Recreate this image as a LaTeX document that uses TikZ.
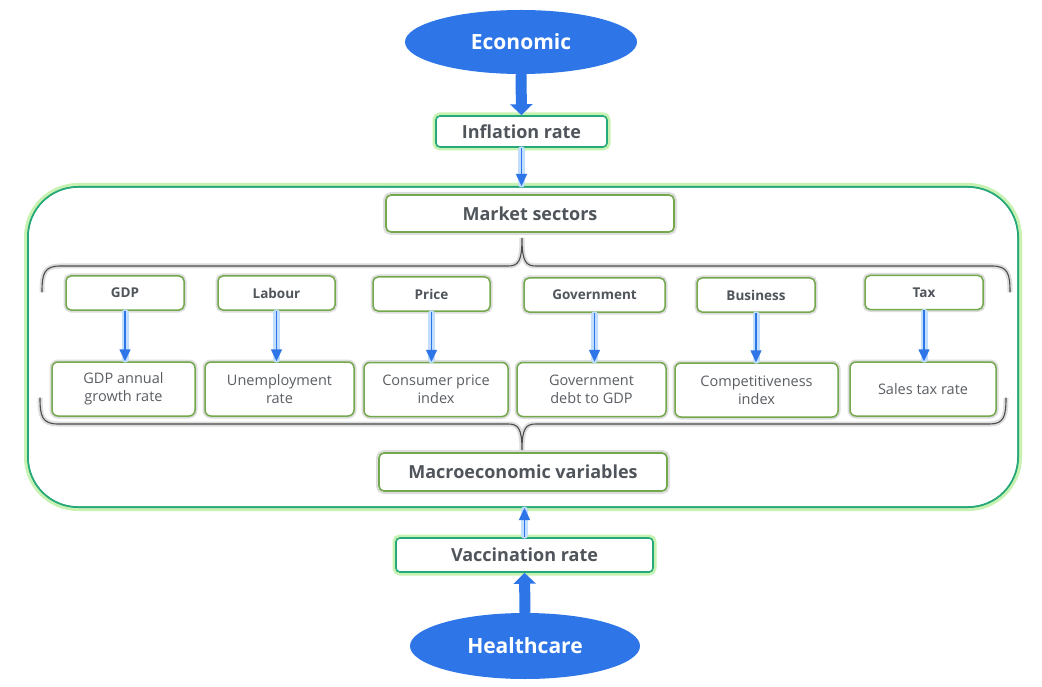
\documentclass[tikz,border=0pt]{standalone}
\usepackage{fontspec}
\setmainfont{Open Sans}
\usetikzlibrary{arrows.meta,shapes.geometric}
\definecolor{eblue}{HTML}{2E76E8}
\definecolor{teal}{HTML}{25A87A}
\definecolor{glow}{HTML}{C8F2B2}
\definecolor{olive}{HTML}{74A84C}
\definecolor{tgray}{HTML}{50555C}
\definecolor{rgray}{HTML}{5A5E63}
\definecolor{shad}{HTML}{DDDDDD}
\definecolor{aglow}{HTML}{C2DEFF}
\tikzset{
  oval/.style={ellipse, fill=eblue, text=white, font=\fontsize{21}{24}\selectfont\bfseries, inner sep=0pt},
  keybox/.style={draw=teal, line width=1.6pt, rounded corners=4pt, fill=white, text=tgray,
     font=\fontsize{18}{21}\selectfont\bfseries, inner sep=0pt,
     preaction={draw=glow, line width=7pt}},
  headbox/.style={draw=olive, line width=1.6pt, rounded corners=5pt, fill=white, text=tgray,
     font=\fontsize{18}{21}\selectfont\bfseries, inner sep=0pt,
     preaction={draw=shad, line width=6pt}},
  catbox/.style={draw=olive, line width=1.5pt, rounded corners=5pt, fill=white, text=tgray,
     font=\fontsize{13.5}{16}\selectfont\bfseries, inner sep=0pt, minimum height=34pt,
     preaction={draw=shad, line width=5pt}},
  varbox/.style={draw=olive, line width=1.5pt, rounded corners=6pt, fill=white, text=rgray,
     font=\fontsize{14.5}{18}\selectfont, inner sep=0pt, minimum height=54pt, align=center,
     preaction={draw=shad, line width=5pt}},
  bigarrow/.style={draw=eblue, line width=11pt, -{Triangle[width=22pt,length=11pt]}},
  thinarrow/.style={draw=eblue, line width=1.6pt, -{Triangle[width=11pt,length=12pt]},
     preaction={draw=aglow, line width=7pt, line cap=round, shorten >=2pt, shorten <=2pt, -}},
  bracepath/.style={draw=black!70, line width=1.1pt, line cap=round,
     preaction={draw=shad, line width=5pt}},
}
\begin{document}
\begin{tikzpicture}[x=1pt,y=-1pt]
\useasboundingbox[fill=white] (0,0) rectangle (1042,687);

% big panel
\node[draw=teal, line width=2pt, rounded corners=50pt, minimum width=990pt, minimum height=320pt,
      preaction={draw=glow, line width=8pt}, inner sep=0pt] (panel) at (523,347) {};
\fill[white, rounded corners=49pt] (29,188) rectangle (1017,506);

% ellipses
\node[oval, minimum width=232pt, minimum height=64pt] (eco) at (521,42) {Economic};
\node[oval, minimum width=230pt, minimum height=66pt] (hea) at (525,646) {Healthcare};

% key boxes
\node[keybox, minimum width=171pt, minimum height=31pt] (infl) at (521.5,131.5) {Inflation rate};
\node[keybox, minimum width=257pt, minimum height=34pt] (vacc) at (524.5,555) {Vaccination rate};

% header boxes
\node[headbox, minimum width=288pt, minimum height=37pt] (mkt) at (530,213.5) {Market sectors};
\node[headbox, minimum width=288pt, minimum height=38pt] (mac) at (523,472) {Macroeconomic variables};

% category boxes
\node[catbox, minimum width=118pt] (c1) at (125,293) {GDP};
\node[catbox, minimum width=117pt] (c2) at (276.5,293) {Labour};
\node[catbox, minimum width=117pt] (c3) at (431.5,294) {Price};
\node[catbox, minimum width=141pt] (c4) at (594.5,295) {Government};
\node[catbox, minimum width=118pt] (c5) at (756,295) {Business};
\node[catbox, minimum width=118pt] (c6) at (924,292.5) {Tax};

% variable boxes
\node[varbox, minimum width=143pt] (v1) at (123.5,389) {GDP annual\\growth rate};
\node[varbox, minimum width=149pt] (v2) at (279.5,389) {Unemployment\\rate};
\node[varbox, minimum width=144pt] (v3) at (436,389.5) {Consumer price\\index};
\node[varbox, minimum width=149pt] (v4) at (591.5,389.5) {Government\\debt to GDP};
\node[varbox, minimum width=163pt] (v5) at (756.5,390) {Competitiveness\\index};
\node[varbox, minimum width=146pt] (v6) at (923,389) {Sales tax rate};

% braces
\coordinate (btip) at (522,238);
\coordinate (ltip) at (522,450);
\path[bracepath] (42,292) .. controls (42,274) and (44,266) .. (60,266) -- (508,266)
   .. controls (518,266) and (522,262) .. (btip)
   .. controls (522,262) and (526,266) .. (536,266) -- (992,266)
   .. controls (1008,266) and (1010,274) .. (1010,292);
\path[bracepath] (40,398) .. controls (40,416) and (42,424) .. (58,424) -- (508,424)
   .. controls (518,424) and (522,428) .. (ltip)
   .. controls (522,428) and (526,424) .. (536,424) -- (990,424)
   .. controls (1004,424) and (1006,416) .. (1006,398);

% arrows
\draw[bigarrow] (eco.south) -- (infl.north);
\draw[bigarrow] (hea.north) -- (vacc.south);
\draw[thinarrow] (infl.south) -- (infl.south |- panel.north);
\draw[thinarrow] (vacc.north) -- (vacc.north |- panel.south);
\foreach \i in {1,...,6}{
  \draw[thinarrow] (c\i.south) -- (c\i.south |- v\i.north);
}
\end{tikzpicture}
\end{document}
